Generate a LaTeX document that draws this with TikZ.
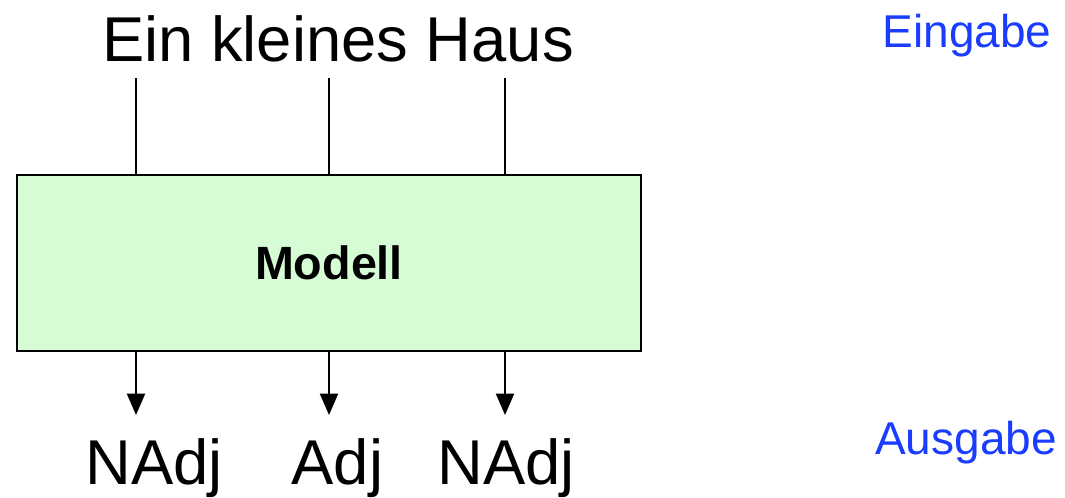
\documentclass[tikz,border=0pt]{standalone}
\usepackage{fontspec}
\setmainfont{Liberation Sans}
\usepackage{tikz}
\usetikzlibrary{
  positioning,%
  arrows.meta,%
  calc
}
\definecolor{modellgreen}{RGB}{213, 252, 213}
\definecolor{labelblue}{RGB}{25, 60, 255}
\tikzset{>={Triangle[width=13.5pt, length=16pt]}}
\tikzset{wire/.style={line width=1.5pt}}
\tikzset{word/.style={anchor=base, inner sep=0pt, font=\fontsize{47.5}{50}\selectfont}}
\tikzset{side/.style={anchor=base, inner sep=0pt, text=labelblue, font=\fontsize{34.5}{38}\selectfont}}
\tikzset{modellbox/.style={draw, line width=1.5pt, fill=modellgreen, minimum width=468pt,
    minimum height=132pt, inner sep=0pt, font=\fontsize{35}{38}\selectfont\bfseries}}

\begin{document}
\begin{tikzpicture}[x=0.75pt, y=-0.75pt]
                \useasboundingbox (0, 0) rectangle (1065, 497);%
                \node[word] (satz) at (338, 61) {Ein kleines Haus};%
                \node[side] (eingabe) at (967, 47) {Eingabe};%
                \node[side] (ausgabe) at (966, 454) {Ausgabe};%
                \node[modellbox] (modell) at (329, 263) {Modell};%
                \node[word] (tag1) at (154, 484) {NAdj};%
                \node[word] (tag2) at (337.5, 484) {Adj};%
                \node[word] (tag3) at (506, 484) {NAdj};%
                \coordinate (in1) at (136, 78);%
                \coordinate (in2) at (329, 78);%
                \coordinate (in3) at (505, 78);%
                \coordinate (out1) at (136, 415);%
                \coordinate (out2) at (329, 415);%
                \coordinate (out3) at (505, 415);%
                \foreach \i in {1, 2, 3} {%
                  \draw[wire] (in\i) -- (in\i |- modell.north);%
                  \draw[wire, ->] (modell.south -| out\i) -- (out\i);%
                }%
              \end{tikzpicture}
\end{document}
